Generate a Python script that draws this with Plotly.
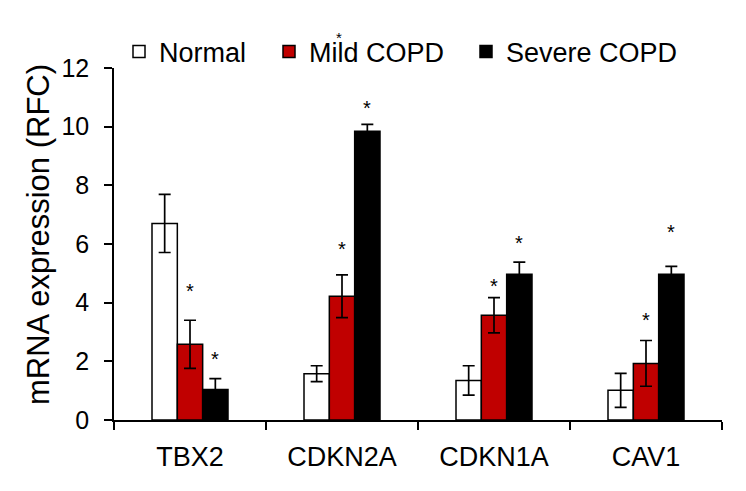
import plotly.graph_objects as go

categories = ["TBX2", "CDKN2A", "CDKN1A", "CAV1"]
series_names = ["Normal", "Mild COPD", "Severe COPD"]
normal_vals = [6.70, 1.58, 1.35, 1.01]
normal_err = [0.99, 0.27, 0.50, 0.58]
mild_vals = [2.58, 4.22, 3.57, 1.93]
mild_err = [0.82, 0.73, 0.60, 0.78]
severe_vals = [1.04, 9.84, 4.97, 4.97]
severe_err = [0.37, 0.24, 0.41, 0.27]
y_ticks = [0, 2, 4, 6, 8, 10, 12]
# significance stars: (category index, series index, y position of star)
stars = [(0, 1, 4.47), (0, 2, 2.15), (1, 1, 5.9), (1, 2, 10.7),
         (2, 1, 4.64), (2, 2, 6.1), (3, 1, 3.48), (3, 2, 6.48)]

colors = ["#ffffff", "#c00000", "#000000"]
FONT = "Liberation Sans, Arial, sans-serif"

# page body has an 8px margin; plot area in window: x 114..722, y 68..420
PL, PT, PW, PH = 106, 60, 608, 352
FW, FH = 730, 475

fig = go.Figure()
vals = [normal_vals, mild_vals, severe_vals]
errs = [normal_err, mild_err, severe_err]
legends = ["legend", "legend2", "legend3"]
for i, name in enumerate(series_names):
    fig.add_trace(go.Bar(
        x=categories, y=vals[i], name=name,
        marker=dict(color=colors[i], line=dict(color="black", width=1.5)),
        error_y=dict(type="data", array=errs[i], visible=True,
                     color="black", thickness=1.7, width=6),
        legend=legends[i], showlegend=True,
    ))

bar_w = 0.5 / 3
for ci, si, yv in stars:
    fig.add_annotation(x=ci + (si - 1) * bar_w, y=yv, xref="x", yref="y",
                       text="*", showarrow=False, yshift=-2,
                       font=dict(family=FONT, size=20, color="black"))

# stray asterisk above the legend text
fig.add_annotation(x=(339 - 114) / PW, y=(420 - 35) / PH, xref="paper", yref="paper",
                   xanchor="center", yanchor="middle",
                   text="*", showarrow=False, yshift=-2,
                   font=dict(family=FONT, size=15, color="black"))

fig.add_annotation(x=(38 - 114) / PW, y=(420 - 235) / PH, xref="paper", yref="paper",
                   xanchor="center", yanchor="middle",
                   text="mRNA expression (RFC)", textangle=-90, showarrow=False,
                   font=dict(family=FONT, size=31, color="black"))

leg_common = dict(orientation="h", yanchor="middle", xanchor="left",
                  font=dict(family=FONT, size=27, color="black"),
                  bgcolor="rgba(0,0,0,0)", borderwidth=0, itemclick=False,
                  itemdoubleclick=False)
leg_x = [(119 - 114) / PW, (269 - 114) / PW, (466 - 114) / PW]
ly = (420 - 52) / PH
fig.update_layout(
    width=FW, height=FH, showlegend=True,
    margin=dict(l=PL, r=FW - PL - PW, t=PT, b=FH - PT - PH, autoexpand=False),
    plot_bgcolor="white", paper_bgcolor="white",
    barmode="group", bargap=0.5, bargroupgap=0,
    legend=dict(x=leg_x[0], y=ly, **leg_common),
    legend2=dict(x=leg_x[1], y=ly, **leg_common),
    legend3=dict(x=leg_x[2], y=ly, **leg_common),
    font=dict(family=FONT, color="black"),
    xaxis=dict(range=[-0.5, 3.5], showline=True, linecolor="black", linewidth=1.5,
               ticks="outside", tickson="boundaries", ticklen=8, tickwidth=1.5,
               tickcolor="black", showgrid=False, zeroline=False,
               tickfont=dict(family=FONT, size=27, color="black"),
               ticklabelstandoff=12),
    yaxis=dict(range=[0, 12], tickvals=y_ticks, showline=True, linecolor="black",
               linewidth=1.5, ticks="outside", ticklen=8, tickwidth=1.5,
               tickcolor="black", showgrid=False, zeroline=False,
               tickfont=dict(family=FONT, size=25, color="black"),
               ticklabelstandoff=10),
)

fig.write_html("out.html")
